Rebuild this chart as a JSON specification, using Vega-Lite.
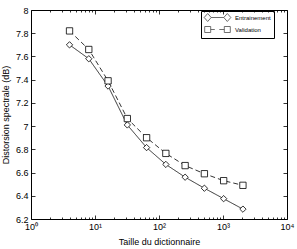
{
  "$schema": "https://vega.github.io/schema/vega-lite/v6.json",
  "width": 256,
  "height": 209,
  "autosize": {"type": "none"},
  "padding": {"left": 31, "top": 10, "right": 10, "bottom": 30},
  "config": {
    "view": {"stroke": null},
    "font": "Liberation Sans",
    "axis": {
      "domainColor": "black",
      "domainWidth": 1,
      "tickColor": "black",
      "tickWidth": 0.8,
      "labelColor": "black",
      "titleColor": "black",
      "labelFontSize": 9,
      "titleFontSize": 9,
      "titleFontWeight": "normal",
      "grid": false,
      "labelFont": "Liberation Sans",
      "titleFont": "Liberation Sans"
    },
    "legend": {"labelFont": "Liberation Sans"}
  },
  "data": {
    "values": [
      {"taille": 4, "serie": "Entrainement", "d": 7.70},
      {"taille": 8, "serie": "Entrainement", "d": 7.58},
      {"taille": 16, "serie": "Entrainement", "d": 7.345},
      {"taille": 32, "serie": "Entrainement", "d": 7.01},
      {"taille": 64, "serie": "Entrainement", "d": 6.815},
      {"taille": 128, "serie": "Entrainement", "d": 6.67},
      {"taille": 256, "serie": "Entrainement", "d": 6.56},
      {"taille": 512, "serie": "Entrainement", "d": 6.465},
      {"taille": 1024, "serie": "Entrainement", "d": 6.375},
      {"taille": 2048, "serie": "Entrainement", "d": 6.285},
      {"taille": 4, "serie": "Validation", "d": 7.82},
      {"taille": 8, "serie": "Validation", "d": 7.66},
      {"taille": 16, "serie": "Validation", "d": 7.39},
      {"taille": 32, "serie": "Validation", "d": 7.065},
      {"taille": 64, "serie": "Validation", "d": 6.90},
      {"taille": 128, "serie": "Validation", "d": 6.765},
      {"taille": 256, "serie": "Validation", "d": 6.66},
      {"taille": 512, "serie": "Validation", "d": 6.59},
      {"taille": 1024, "serie": "Validation", "d": 6.53},
      {"taille": 2048, "serie": "Validation", "d": 6.49}
    ]
  },
  "layer": [
    {
      "mark": {"type": "line", "color": "black", "strokeWidth": 0.8},
      "encoding": {
        "x": {
          "field": "taille", "type": "quantitative",
          "scale": {"type": "log", "domain": [1, 10000]},
          "axis": {
            "orient": "bottom",
            "title": "Taille du dictionnaire",
            "titlePadding": 4,
            "values": [1,2,3,4,5,6,7,8,9,10,20,30,40,50,60,70,80,90,100,200,300,400,500,600,700,800,900,1000,2000,3000,4000,5000,6000,7000,8000,9000,10000],
            "tickSize": {"condition": {"test": "indexof([1,10,100,1000,10000], datum.value) >= 0", "value": -4}, "value": -2},
            "labelExpr": "indexof([1,10,100,1000,10000], datum.value) >= 0 ? '10' + ['⁰','¹','²','³','⁴'][round(log(datum.value)/LN10)] : ''",
            "labelOverlap": false,
            "labelFlush": false,
            "labelPadding": 7
          }
        },
        "y": {
          "field": "d", "type": "quantitative",
          "scale": {"domain": [6.2, 8], "nice": false, "zero": false},
          "axis": {
            "orient": "left",
            "title": "Distorsion spectrale (dB)",
            "titlePadding": 5,
            "values": [6.2, 6.4, 6.6, 6.8, 7, 7.2, 7.4, 7.6, 7.8, 8],
            "format": "~g",
            "tickSize": -4,
            "labelPadding": 7,
            "labelOverlap": false,
            "labelFlush": false
          }
        },
        "strokeDash": {
          "field": "serie", "type": "nominal",
          "scale": {"domain": ["Entrainement", "Validation"], "range": [[1, 0], [5, 3]]},
          "legend": null
        },
        "order": {"field": "taille", "type": "quantitative"}
      }
    },
    {
      "mark": {"type": "point", "filled": true, "fill": "white", "stroke": "black", "strokeWidth": 0.8, "size": 40, "opacity": 1},
      "encoding": {
        "x": {
          "field": "taille", "type": "quantitative",
          "scale": {"type": "log", "domain": [1, 10000]},
          "axis": {
            "orient": "top", "title": null, "labels": false,
            "values": [1,2,3,4,5,6,7,8,9,10,20,30,40,50,60,70,80,90,100,200,300,400,500,600,700,800,900,1000,2000,3000,4000,5000,6000,7000,8000,9000,10000],
            "tickSize": {"condition": {"test": "indexof([1,10,100,1000,10000], datum.value) >= 0", "value": -4}, "value": -2}
          }
        },
        "y": {
          "field": "d", "type": "quantitative",
          "scale": {"domain": [6.2, 8], "nice": false, "zero": false},
          "axis": {
            "orient": "right", "title": null, "labels": false,
            "values": [6.2, 6.4, 6.6, 6.8, 7, 7.2, 7.4, 7.6, 7.8, 8],
            "tickSize": -4
          }
        },
        "shape": {
          "field": "serie", "type": "nominal",
          "scale": {"domain": ["Entrainement", "Validation"], "range": ["diamond", "square"]},
          "legend": null
        }
      }
    },
    {
      "transform": [{"filter": "false"}],
      "mark": {"type": "point", "filled": false, "stroke": "black", "strokeWidth": 0.8},
      "encoding": {
        "shape": {
          "field": "serie", "type": "nominal",
          "scale": {
            "domain": ["Entrainement", "Validation"],
            "range": [
              "M-4.44,0L-3.27,-1.33L-2.1,0L-3.27,1.33Z M2.1,0L3.27,-1.33L4.44,0L3.27,1.33Z M-2.1,0L2.1,0",
              "M-4.27,-1H-2.27V1H-4.27Z M2.27,-1H4.27V1H2.27Z M-2.27,0H-0.9 M0.6,0H2.27"
            ]
          },
          "legend": {
            "title": null,
            "orient": "none",
            "legendX": 170,
            "legendY": 1,
            "strokeColor": "black",
            "padding": 3,
            "symbolSize": 36,
            "symbolStrokeColor": "black",
            "symbolFillColor": "white",
            "symbolStrokeWidth": 0.8,
            "symbolOffset": 10,
            "labelOffset": 14,
            "labelFontSize": 6,
            "labelColor": "black",
            "rowPadding": 0
          }
        }
      }
    }
  ],
  "resolve": {
    "scale": {"shape": "independent"},
    "axis": {"x": "independent", "y": "independent"}
  }
}
